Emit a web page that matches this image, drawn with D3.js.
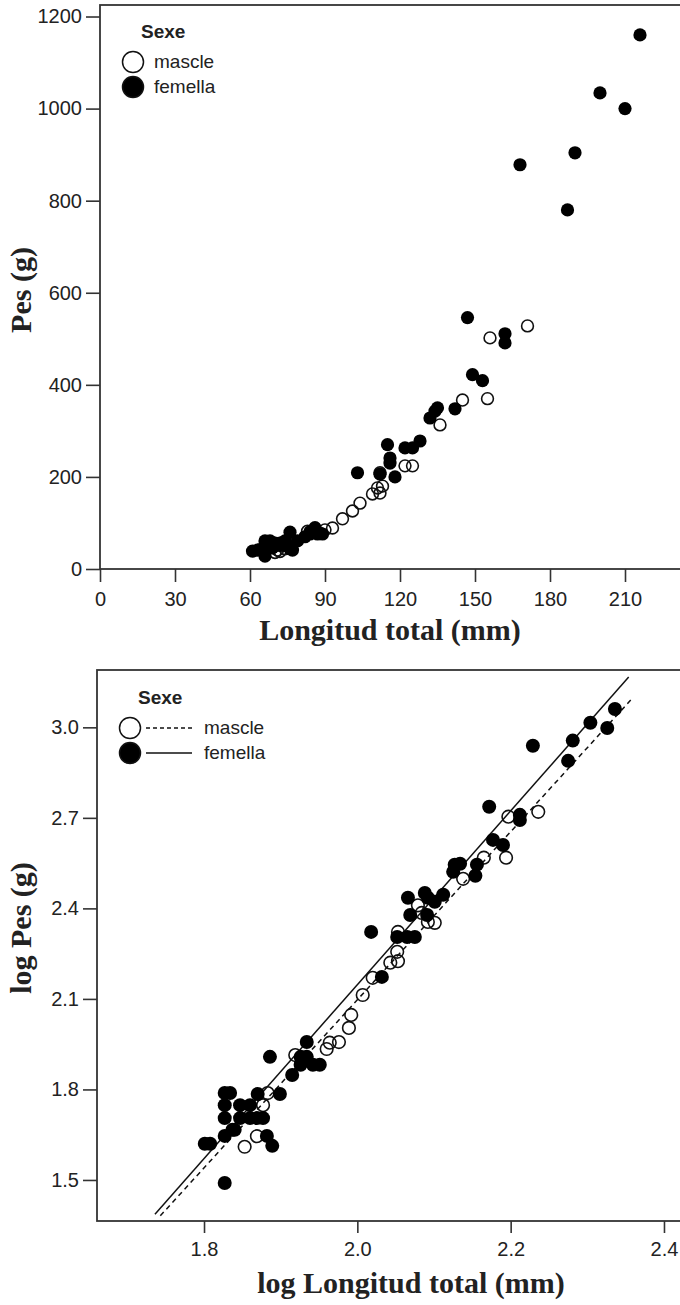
<!DOCTYPE html>
<html>
<head>
<meta charset="utf-8">
<script src="https://cdn.jsdelivr.net/npm/d3@7"></script>
<style>
  body { margin: 0; background: #fff; }
  svg { display: block; }
  .tick text { font-family: "Liberation Sans", Arial, sans-serif; font-size: 20px; fill: #222; }
  .tick line { stroke: #333; stroke-width: 1.6; }
  .title { font-family: "Liberation Serif", "Times New Roman", serif; font-weight: bold; font-size: 30px; fill: #222; }
  .leg { font-family: "Liberation Sans", Arial, sans-serif; font-size: 19px; fill: #222; }
</style>
</head>
<body>
<div id="chart"></div>
<script>
// --- data ---
// top panel: longitud total (mm), pes (g)
var topMascle = [[70,36],[71,41],[72,38],[74,44],[75,56],[76,61],[83,82],[88,78],[90,85],[93,89],
  [97,109],[101,126],[104,143],[109,163],[111,176],[112,165],[112,209],[113,180],[122,224],[125,224],
  [136,313],[145,367],[155,370],[156,502],[171,528]];
var topFemella = [[61,39],[63,41],[64,42],[66,61],[66,28],[67,44],[67,51],[67,56],[68,61],[69,46],
  [70,51],[70,56],[72,51],[72,56],[74,51],[75,51],[74,61],[76,44],[77,41],[76,80],[79,61],[82,70],
  [84,76],[84,81],[86,81],[86,90],[87,76],[89,76],[103,209],[112,206],[115,270],[116,241],[116,230],
  [118,200],[122,263],[125,263],[128,278],[132,328],[134,343],[135,350],[142,348],[147,546],[149,422],
  [153,409],[162,511],[162,491],[168,878],[187,780],[190,904],[200,1034],[210,1000],[216,1160]];

// bottom panel: log longitud, log pes
var logMascle = [[1.853,1.610],[1.869,1.645],[1.877,1.748],[1.883,1.788],[1.919,1.914],[1.927,1.905],
  [1.960,1.934],[1.964,1.955],[1.976,1.957],[1.989,2.004],[1.992,2.047],[2.007,2.113],[2.020,2.170],
  [2.043,2.220],[2.053,2.225],[2.052,2.256],[2.053,2.322],[2.079,2.410],[2.084,2.385],[2.092,2.355],
  [2.101,2.352],[2.138,2.498],[2.165,2.568],[2.194,2.568],[2.197,2.704],[2.236,2.720]];
var logFemella = [[1.801,1.620],[1.808,1.620],[1.827,1.490],[1.827,1.646],[1.827,1.705],[1.827,1.748],
  [1.827,1.788],[1.834,1.788],[1.837,1.666],[1.840,1.666],[1.847,1.748],[1.860,1.748],[1.847,1.705],
  [1.860,1.705],[1.869,1.705],[1.877,1.705],[1.870,1.785],[1.899,1.785],[1.882,1.646],[1.889,1.613],
  [1.886,1.908],[1.915,1.848],[1.934,1.957],[1.926,1.908],[1.934,1.908],[1.942,1.882],[1.951,1.882],
  [1.926,1.882],[2.018,2.322],[2.032,2.173],[2.052,2.305],[2.065,2.305],[2.075,2.305],[2.069,2.378],
  [2.066,2.435],[2.088,2.451],[2.092,2.435],[2.101,2.422],[2.112,2.445],[2.091,2.378],[2.127,2.545],
  [2.134,2.548],[2.125,2.521],[2.156,2.545],[2.154,2.508],[2.177,2.627],[2.190,2.610],[2.172,2.737],
  [2.212,2.710],[2.212,2.693],[2.229,2.939],[2.281,2.956],[2.275,2.889],[2.304,3.015],[2.326,2.998],
  [2.336,3.061]];

// fit lines: [slope, intercept, xStart, xEnd]
var fitMascle = [2.785, -3.473, 1.743, 2.358];
var fitFemella = [2.880, -3.613, 1.736, 2.354];

var topXTicks = [0, 30, 60, 90, 120, 150, 180, 210];
var topYTicks = [0, 200, 400, 600, 800, 1000, 1200];
var logXTicks = [1.8, 2.0, 2.2, 2.4];
var logYTicks = [1.5, 1.8, 2.1, 2.4, 2.7, 3.0];

var sexes = ["mascle", "femella"];

var W = 680, H = 1305;
var svg = d3.select("#chart").append("svg").attr("width", W).attr("height", H);

function panel(cfg) {
  var g = svg.append("g");
  var x = d3.scaleLinear().domain(cfg.xDomain).range([cfg.left, cfg.right]);
  var y = d3.scaleLinear().domain(cfg.yDomain).range([cfg.bottom, cfg.top]);

  g.append("clipPath").attr("id", cfg.id)
    .append("rect")
    .attr("x", cfg.left).attr("y", cfg.top)
    .attr("width", cfg.right - cfg.left).attr("height", cfg.bottom - cfg.top);

  // frame
  g.append("rect")
    .attr("x", cfg.left).attr("y", cfg.top)
    .attr("width", cfg.right - cfg.left).attr("height", cfg.bottom - cfg.top)
    .attr("fill", "none").attr("stroke", "#333").attr("stroke-width", 1.8);

  var xa = g.append("g").attr("transform", "translate(0," + cfg.bottom + ")")
    .call(d3.axisBottom(x).tickValues(cfg.xTicks).tickSize(cfg.xTickSize)
      .tickPadding(cfg.xPad).tickSizeOuter(0).tickFormat(cfg.fmt));
  xa.select(".domain").remove();

  var ya = g.append("g").attr("transform", "translate(" + cfg.left + ",0)")
    .call(d3.axisLeft(y).tickValues(cfg.yTicks).tickSize(14)
      .tickPadding(4).tickSizeOuter(0).tickFormat(cfg.fmt));
  ya.select(".domain").remove();

  var plot = g.append("g").attr("clip-path", "url(#" + cfg.id + ")");

  if (cfg.fits) {
    cfg.fits.forEach(function (f, i) {
      var pts = [[f[2], f[0] * f[2] + f[1]], [f[3], f[0] * f[3] + f[1]]];
      plot.append("path")
        .attr("d", d3.line().x(function (d) { return x(d[0]); }).y(function (d) { return y(d[1]); })(pts))
        .attr("stroke", "#111").attr("stroke-width", 1.5).attr("fill", "none")
        .attr("stroke-dasharray", i === 0 ? "5,4" : null);
    });
  }

  plot.selectAll("circle.m").data(cfg.mascle).join("circle")
    .attr("class", "m")
    .attr("cx", function (d) { return x(d[0]); })
    .attr("cy", function (d) { return y(d[1]); })
    .attr("r", cfg.r)
    .attr("fill", "none").attr("stroke", "#111").attr("stroke-width", 1.6);

  plot.selectAll("circle.f").data(cfg.femella).join("circle")
    .attr("class", "f")
    .attr("cx", function (d) { return x(d[0]); })
    .attr("cy", function (d) { return y(d[1]); })
    .attr("r", cfg.r + 0.7)
    .attr("fill", "#000");

  // legend
  var lg = g.append("g");
  lg.append("text").attr("class", "leg").attr("x", cfg.leg.x + 8).attr("y", cfg.leg.y)
    .style("font-weight", "bold").text("Sexe");
  sexes.forEach(function (s, i) {
    lg.append("circle").attr("cx", cfg.leg.x).attr("cy", cfg.leg.cy + i * 25).attr("r", 10.5)
      .attr("fill", i === 0 ? "#fff" : "#000").attr("stroke", "#111").attr("stroke-width", 1.5);
    var tx = cfg.leg.x + 21;
    if (cfg.fits) {
      lg.append("line").attr("x1", cfg.leg.x + 16).attr("x2", cfg.leg.x + 62)
        .attr("y1", cfg.leg.cy + i * 25).attr("y2", cfg.leg.cy + i * 25)
        .attr("stroke", "#111").attr("stroke-width", 1.4)
        .attr("stroke-dasharray", i === 0 ? "4,3" : null);
      tx = cfg.leg.x + 74;
    }
    lg.append("text").attr("class", "leg").attr("x", tx).attr("y", cfg.leg.cy + i * 25 + 6).text(s);
  });

  // axis titles
  g.append("text").attr("class", "title").attr("text-anchor", "middle")
    .attr("x", cfg.xTitlePos[0]).attr("y", cfg.xTitlePos[1]).text(cfg.xTitle);
  g.append("text").attr("class", "title").attr("text-anchor", "middle")
    .attr("transform", "translate(" + cfg.yTitlePos[0] + "," + cfg.yTitlePos[1] + ") rotate(-90)")
    .text(cfg.yTitle);
}

panel({
  id: "clipTop",
  left: 100, right: 700, top: 5, bottom: 569,
  xDomain: [0, 240], yDomain: [0, 1225],
  xTicks: topXTicks, yTicks: topYTicks, fmt: d3.format("d"),
  xTickSize: 13, xPad: 10,
  mascle: topMascle, femella: topFemella, r: 5.9,
  leg: { x: 133, y: 38, cy: 62 },
  xTitle: "Longitud total (mm)", xTitlePos: [390, 640],
  yTitle: "Pes (g)", yTitlePos: [31, 290]
});

panel({
  id: "clipBot",
  left: 97, right: 703, top: 670, bottom: 1221,
  xDomain: [1.6604, 2.4509], yDomain: [1.364, 3.19],
  xTicks: logXTicks, yTicks: logYTicks, fmt: d3.format(".1f"),
  xTickSize: 12, xPad: 9,
  mascle: logMascle, femella: logFemella, r: 6.3,
  fits: [fitMascle, fitFemella],
  leg: { x: 130, y: 704, cy: 728 },
  xTitle: "log Longitud total (mm)", xTitlePos: [411, 1293],
  yTitle: "log Pes (g)", yTitlePos: [31, 928]
});
</script>
</body>
</html>
